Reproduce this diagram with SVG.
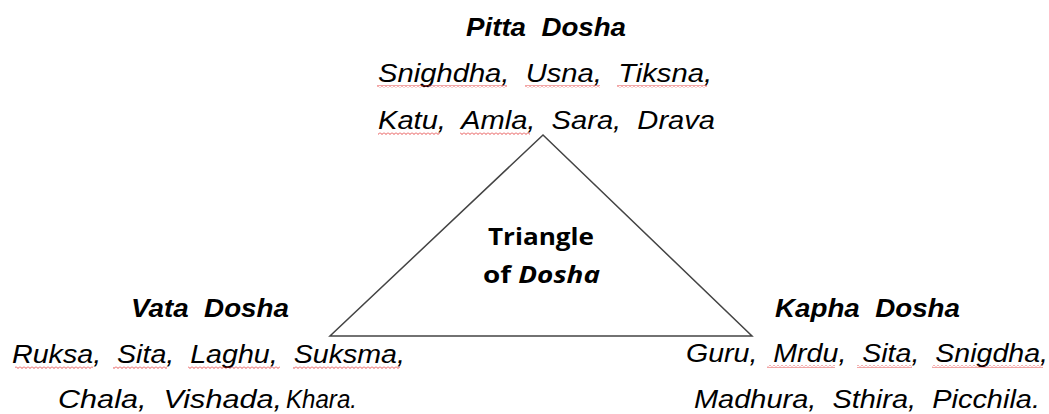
<svg xmlns="http://www.w3.org/2000/svg" width="1049" height="414" viewBox="0 0 1049 414" xml:space="preserve">
<style>
text{white-space:pre}
.t{font-family:"Liberation Sans",Arial,sans-serif;font-style:italic;font-size:26px;fill:#000}
.b{font-weight:bold}
.c{font-family:"Open Sans","Liberation Sans",sans-serif;font-weight:bold;font-size:24px;fill:#000}
.sq{fill:url(#wave)}
</style>
<defs>
<pattern id="wave" patternUnits="userSpaceOnUse" width="4" height="3">
<path d="M0,0.5 L2,2.5 L4,0.5" fill="none" stroke="#e02020" stroke-width="0.8"/>
</pattern>
</defs>
<g id="connectors">
<polygon points="543,135 330,336 752,336" fill="none" stroke="#444" stroke-width="1.5"/>
</g>
<g id="center">
<text class="c" x="488" y="245" textLength="106" lengthAdjust="spacingAndGlyphs">Triangle</text>
<text class="c" x="483" y="283" textLength="117" lengthAdjust="spacingAndGlyphs">of <tspan font-style="italic">Dosha</tspan></text>
</g>
<g id="pitta">
<text class="t b" x="466" y="36" textLength="160" lengthAdjust="spacingAndGlyphs">Pitta  Dosha</text>
<text class="t" x="378" y="82" textLength="334" lengthAdjust="spacingAndGlyphs">Snighdha,  Usna,  Tiksna,</text>
<text class="t" x="378" y="129" textLength="337" lengthAdjust="spacingAndGlyphs">Katu,  Amla,  Sara,  Drava</text>
<rect class="sq" x="377" y="85" width="130" height="3"/>
<rect class="sq" x="525" y="85" width="75" height="3"/>
<rect class="sq" x="617" y="85" width="90" height="3"/>
<rect class="sq" x="378" y="132" width="62" height="3"/>
<rect class="sq" x="460" y="132" width="70" height="3"/>
</g>
<g id="vata">
<text class="t b" x="131" y="317" textLength="158" lengthAdjust="spacingAndGlyphs">Vata  Dosha</text>
<text class="t" x="12" y="363" textLength="393" lengthAdjust="spacingAndGlyphs">Ruksa,  Sita,  Laghu,  Suksma,</text>
<text class="t" x="58" y="408" textLength="224" lengthAdjust="spacingAndGlyphs">Chala,  Vishada,</text>
<text class="t" x="286" y="408" font-size="21" textLength="71" lengthAdjust="spacingAndGlyphs">Khara.</text>
<rect class="sq" x="15" y="366" width="78" height="3"/>
<rect class="sq" x="113" y="366" width="54" height="3"/>
<rect class="sq" x="188" y="366" width="92" height="3"/>
<rect class="sq" x="293" y="366" width="107" height="3"/>
</g>
<g id="kapha">
<text class="t b" x="775" y="317" textLength="185" lengthAdjust="spacingAndGlyphs">Kapha  Dosha</text>
<text class="t" x="686" y="362" textLength="362" lengthAdjust="spacingAndGlyphs">Guru,  Mrdu,  Sita,  Snigdha,</text>
<text class="t" x="694" y="408" textLength="346" lengthAdjust="spacingAndGlyphs">Madhura,  Sthira,  Picchila.</text>
<rect class="sq" x="767" y="365" width="68" height="3"/>
<rect class="sq" x="857" y="365" width="55" height="3"/>
<rect class="sq" x="932" y="365" width="111" height="3"/>
</g>
</svg>
